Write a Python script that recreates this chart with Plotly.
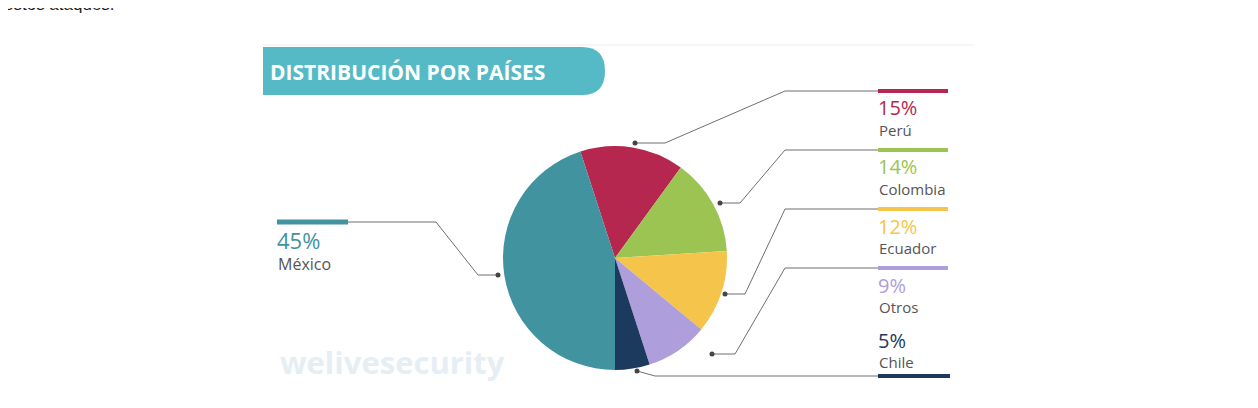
import plotly.graph_objects as go

W, H = 1258, 408
OFF = 8
FW, FH = W - 2 * OFF, H - 2 * OFF
countries = ["Perú", "Colombia", "Ecuador", "Otros", "Chile", "México"]
values = [15, 14, 12, 9, 5, 45]
colors = ["#B5274E", "#9BC453", "#F5C54B", "#AE9EDC", "#1B3A5E", "#4293A0"]

def px(x): return (x - OFF) / FW
def py(y): return 1 - (y - OFF) / FH

fig = go.Figure(go.Pie(
    labels=countries, values=values, sort=False, direction="clockwise", rotation=-18,
    marker=dict(colors=colors, line=dict(width=0)), textinfo="none", hoverinfo="label+percent",
    domain=dict(x=[px(503), px(727)], y=[py(370), py(146)]), showlegend=False))

shapes, ann = [], []
def line(pts, color="#6f6f6f", w=1):
    path = "M " + " L ".join(f"{px(x)},{py(y)}" for x, y in pts)
    shapes.append(dict(type="path", path=path, xref="paper", yref="paper", line=dict(color=color, width=w)))
def dot(x, y):
    shapes.append(dict(type="circle", xref="paper", yref="paper", x0=px(x-2.5), x1=px(x+2.5),
                       y0=py(y+2.5), y1=py(y-2.5), fillcolor="#444", line=dict(width=0)))
def text(x, y, s, color, size, anchor="left"):
    ann.append(dict(x=px(x), y=py(y), xref="paper", yref="paper", text=s, showarrow=False,
                    xanchor=anchor, yanchor="middle", font=dict(family="Open Sans", size=size, color=color)))

right = [
    (0, (635, 143), (665, 143), 91, 91, 108, 130),
    (1, (720, 203), (740, 203), 150, 150, 167, 189),
    (2, (725, 294), (745, 294), 209, 209, 226, 248),
    (3, (712, 354), (735, 354), 268, 268, 285, 307),
]
for i, d, e, by, bary, pcty, ny in right:
    line([d, e, (785, by), (878, by)])
    line([(878, bary), (948, bary)], colors[i], 4)
    dot(*d)
    text(876, pcty, f"{values[i]}%", colors[i], 20)
    text(877, ny, countries[i], "#555", 15)
line([(637, 371), (655, 376), (878, 376)])
line([(878, 376), (950, 376)], colors[4], 4)
dot(637, 371)
text(876, 340, f"{values[4]}%", colors[4], 20)
text(877, 362, countries[4], "#555", 15)
line([(348, 222), (436, 222), (478, 275), (498, 275)])
line([(277, 222), (348, 222)], colors[5], 5)
dot(498, 275)
text(275, 240, f"{values[5]}%", colors[5], 22)
text(276, 264, countries[5], "#555", 16)

line([(263, 45), (975, 45)], "#eeeeee", 1)
shapes.append(dict(type="path", xref="paper", yref="paper", fillcolor="#55BAC6", line=dict(width=0),
    path=f"M {px(263)},{py(47)} L {px(582)},{py(47)} Q {px(605)},{py(47)} {px(605)},{py(71)} "
         f"Q {px(605)},{py(95)} {px(582)},{py(95)} L {px(263)},{py(95)} Z"))
ann.append(dict(x=px(268), y=py(72), xref="paper", yref="paper", text="<b>DISTRIBUCIÓN POR PAÍSES</b>",
                showarrow=False, xanchor="left", yanchor="middle",
                font=dict(family="Open Sans", size=21, color="white")))
ann.append(dict(x=px(278), y=py(362), xref="paper", yref="paper", text="<b>welivesecurity</b>",
                showarrow=False, xanchor="left", yanchor="middle",
                font=dict(family="Open Sans", size=31, color="#e6eef4")))
ann.append(dict(x=px(2), y=1, xref="paper", yref="paper", text="estos ataques.",
                showarrow=False, xanchor="left", yanchor="bottom", yshift=-8,
                font=dict(family="Liberation Sans", size=17, color="#222")))

fig.update_layout(width=FW, height=FH, margin=dict(l=0, r=0, t=0, b=0), paper_bgcolor="white",
                  shapes=shapes, annotations=ann)
fig.write_html("out.html")
